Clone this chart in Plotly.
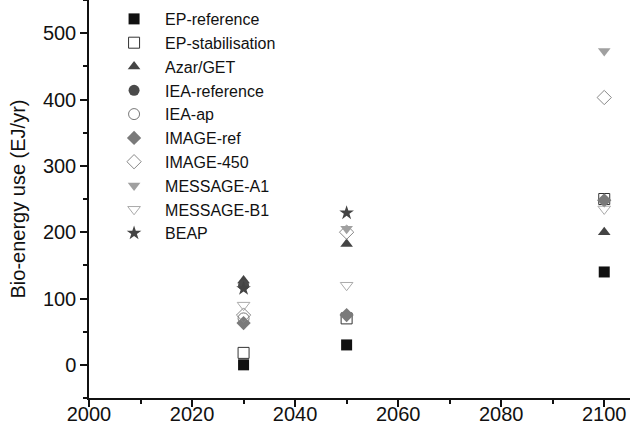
import plotly.graph_objects as go

years = [2030, 2050, 2100]

series_names = ["EP-reference", "EP-stabilisation", "Azar/GET", "IEA-reference", "IEA-ap",
                "IMAGE-ref", "IMAGE-450", "MESSAGE-A1", "MESSAGE-B1", "BEAP"]

ep_reference = [0, 30, 140]
ep_stabilisation = [18, 70, 250]
azar_get = [127, 182, 200]
iea_reference = [120, None, None]
iea_ap = [70, None, None]
image_ref = [63, 75, 248]
image_450 = [75, 200, 403]
message_a1 = [None, 205, 473]
message_b1 = [90, 120, 235]
beap = [115, 229, None]

values = [ep_reference, ep_stabilisation, azar_get, iea_reference, iea_ap,
          image_ref, image_450, message_a1, message_b1, beap]

styles = [
    dict(symbol="square", color="#111111", line=dict(width=0)),
    dict(symbol="square-open", color="#333333", line=dict(width=1)),
    dict(symbol="triangle-up", color="#444444", line=dict(width=0)),
    dict(symbol="circle", color="#4a4a4a", line=dict(width=0)),
    dict(symbol="circle-open", color="#777777", line=dict(width=1)),
    dict(symbol="diamond", color="#7a7a7a", line=dict(width=0)),
    dict(symbol="diamond-open", color="#888888", line=dict(width=1)),
    dict(symbol="triangle-down", color="#a0a0a0", line=dict(width=0)),
    dict(symbol="triangle-down-open", color="#aaaaaa", line=dict(width=1)),
    dict(symbol="star", color="#444444", line=dict(width=0)),
]

fig = go.Figure()
for name, vals, st in zip(series_names, values, styles):
    fig.add_trace(go.Scatter(
        x=years, y=vals, mode="markers", name=name,
        marker=dict(symbol=st["symbol"], color=st["color"], size=11, line=st["line"]),
    ))

fig.update_layout(
    width=630, height=431,
    margin=dict(l=89, r=0, t=0, b=33),
    paper_bgcolor="white", plot_bgcolor="white",
    font=dict(family="Liberation Sans, Arial, sans-serif", color="#111111"),
    showlegend=True,
    legend=dict(x=0.026, y=0.995, xanchor="left", yanchor="top",
                font=dict(size=16, color="#111111"), bgcolor="rgba(0,0,0,0)",
                itemwidth=52),
    xaxis=dict(range=[2000, 2105], tickvals=[2000, 2020, 2040, 2060, 2080, 2100],
               automargin=False,
               showline=True, linecolor="#111111", linewidth=1.5, mirror=False,
               ticks="outside", ticklen=7, tickwidth=1.5, tickcolor="#111111",
               ticklabelstandoff=-10,
               minor=dict(dtick=10, ticks="outside", ticklen=4, tickwidth=1.5, tickcolor="#111111"),
               showgrid=False, zeroline=False, tickfont=dict(size=20)),
    yaxis=dict(range=[-50, 550], tickvals=[0, 100, 200, 300, 400, 500],
               automargin=False,
               showline=True, linecolor="#111111", linewidth=1.5,
               ticks="outside", ticklen=7, tickwidth=1.5, tickcolor="#111111",
               minor=dict(dtick=50, ticks="outside", ticklen=4, tickwidth=1.5, tickcolor="#111111"),
               showgrid=False, zeroline=False, tickfont=dict(size=20),
               title=dict(text="Bio-energy use (EJ/yr)", font=dict(size=20), standoff=12)),
)

fig.write_html("out.html", config={"displayModeBar": False},
               post_script="document.body.style.margin='0';document.body.style.overflow='hidden';")
